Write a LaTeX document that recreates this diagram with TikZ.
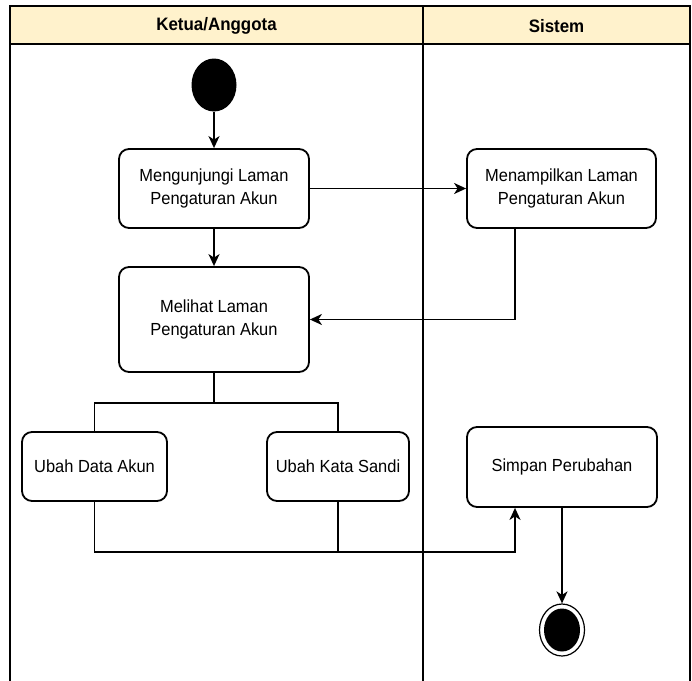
\documentclass[tikz,border=0pt]{standalone}
\usepackage{fontspec}
\setmainfont[FakeStretch=0.94]{Liberation Sans}
\usetikzlibrary{arrows.meta,shapes.geometric}
\begin{document}
\begin{tikzpicture}[x=1pt,y=-1pt,
  actbox/.style={draw,line width=1.8pt,rounded corners=10pt,fill=white,align=center,
    font=\fontsize{17.5}{23}\selectfont,inner sep=0pt},
  conn/.style={line width=1.8pt},
  arr/.style={conn,-{Stealth[length=12pt,width=11pt,inset=3.5pt]}},
  hdr/.style={font=\fontsize{18}{20}\selectfont\bfseries}]
\useasboundingbox (0,0) rectangle (692,680);
% frame
\filldraw[fill={rgb,255:red,255;green,242;blue,204},line width=2pt] (10,6) rectangle (690,44);
\draw[line width=2pt] (10,686) -- (10,6) -- (690,6) -- (690,686);
\draw[line width=2pt] (423,6) -- (423,686);
\node[hdr] (h1) at (216.5,26) {Ketua/Anggota};
\node[hdr] (h2) at (556.5,26) {Sistem};
% nodes
\node[ellipse,fill=black,minimum width=45pt,minimum height=53pt,inner sep=0pt] (start) at (214,85) {};
\node[actbox,minimum width=190pt,minimum height=79pt] (b1) at (214,188.5) {Mengunjungi Laman\\Pengaturan Akun};
\node[actbox,minimum width=190pt,minimum height=105pt] (b2) at (214,319.5) {Melihat Laman\\Pengaturan Akun};
\node[actbox,minimum width=189pt,minimum height=79pt] (b3) at (561.5,188.5) {Menampilkan Laman\\Pengaturan Akun};
\node[actbox,minimum width=145pt,minimum height=69pt] (b4) at (94.5,466.5) {Ubah Data Akun};
\node[actbox,minimum width=142pt,minimum height=69pt] (b5) at (338,466.5) {Ubah Kata Sandi};
\node[actbox,minimum width=190pt,minimum height=80pt] (b6) at (562,467) {Simpan Perubahan};
\node[ellipse,draw,line width=1.2pt,minimum width=45pt,minimum height=52pt,inner sep=0pt] (end) at (562,630) {};
\node[ellipse,fill=black,minimum width=36pt,minimum height=43pt,inner sep=0pt] (endin) at (end.center) {};
% connectors
\coordinate (br) at (214,403);
\coordinate (jn) at (515,552);
\draw[arr] (start.south) -- (b1.north);
\draw[arr] (b1.south) -- (b2.north);
\draw[arr] (b1.east) -- (b3.west);
\draw[arr] ([xshift=-46.5pt]b3.south) |- (b2.east);
\draw[conn] (b2.south) -- (br);
\draw[conn] (b4.north) |- (br) -| (b5.north);
\draw[arr] (b4.south) |- (jn) -- (jn |- b6.south);
\draw[conn] (b5.south) -- (b5.south |- jn);
\draw[arr] (b6.south) -- (end.north);
\end{tikzpicture}
\end{document}
